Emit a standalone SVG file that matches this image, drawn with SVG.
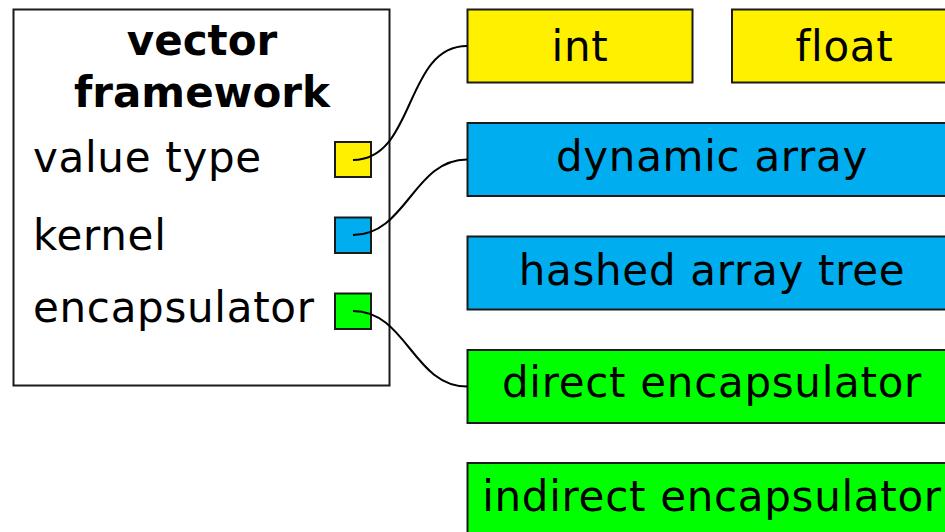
<svg xmlns="http://www.w3.org/2000/svg" width="945" height="532" viewBox="0 0 945 532">
<style>
.box{stroke:#1a1a1a;stroke-width:2}
.t{font-family:"DejaVu Sans",sans-serif;font-size:42px;fill:#000;letter-spacing:0.7px}
.c{text-anchor:middle}
.b{font-weight:bold;letter-spacing:0}
.y{fill:#FFF000}
.u{fill:#00AEEF}
.g{fill:#00FF00}
.w{fill:#fff}
.con{fill:none;stroke:#000;stroke-width:2}
</style>
<g id="framework">
<rect class="box w" x="13.5" y="9.5" width="376" height="376"/>
<text class="t c b" x="202" y="55">vector</text>
<text class="t c b" x="202" y="107">framework</text>
<text class="t" x="33" y="172">value type</text>
<text class="t" x="33" y="250">kernel</text>
<text class="t" x="33" y="322">encapsulator</text>
</g>
<g id="port-value-type"><rect class="box y" x="335" y="142" width="36" height="35"/></g>
<g id="port-kernel"><rect class="box u" x="335" y="217.5" width="36" height="35.5"/></g>
<g id="port-encapsulator"><rect class="box g" x="335" y="293.5" width="36" height="35.5"/></g>
<g id="int"><rect class="box y" x="467.5" y="9.5" width="225" height="73"/><text class="t c" x="580" y="61">int</text></g>
<g id="float"><rect class="box y" x="732" y="9.5" width="225" height="73"/><text class="t c" x="844.5" y="61">float</text></g>
<g id="dynamic-array"><rect class="box u" x="467.5" y="123" width="490" height="73"/><text class="t c" x="712" y="171">dynamic array</text></g>
<g id="hashed-array-tree"><rect class="box u" x="467.5" y="236.5" width="490" height="73"/><text class="t c" x="712" y="285">hashed array tree</text></g>
<g id="direct-encapsulator"><rect class="box g" x="467.5" y="350" width="490" height="73"/><text class="t c" x="712" y="397">direct encapsulator</text></g>
<g id="indirect-encapsulator"><rect class="box g" x="467.5" y="463" width="490" height="73"/><text class="t c" x="712" y="511">indirect encapsulator</text></g>
<g id="connectors">
<path class="con" d="M353,160 C416,160 404,46 467,46"/>
<path class="con" d="M353,235 C406.5,235 413.5,159.5 467,159.5"/>
<path class="con" d="M353,311 C406.5,311 413.5,386.5 467,386.5"/>
</g>
</svg>
